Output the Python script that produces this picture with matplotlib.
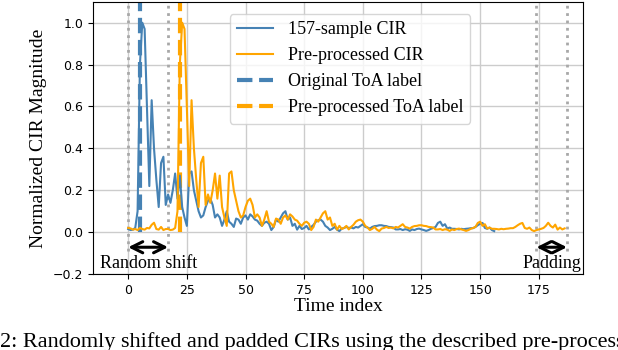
import numpy as np
import matplotlib
matplotlib.use('Agg')
import matplotlib.pyplot as plt

serif = ['Liberation Serif', 'DejaVu Serif']
blue = '#4682b4'
orange = '#ffa500'

# 157-sample CIR
cir_157 = [0.015, 0.01, 0.012, 0.02, 0.1, 0.8, 1.0, 0.97, 0.6, 0.22,
           0.63, 0.4, 0.25, 0.12, 0.33, 0.36, 0.13, 0.18, 0.14, 0.2,
           0.28, 0.16, 0.27, 0.12, 0.07, 0.03, 0.28, 0.29, 0.2, 0.15,
           0.1, 0.07, 0.08, 0.12, 0.15, 0.16, 0.13, 0.07, 0.085, 0.07,
           0.03, 0.06, 0.1, 0.05, 0.04, 0.025, 0.065, 0.06, 0.04, 0.07,
           0.08, 0.06, 0.085, 0.075, 0.06, 0.055, 0.04, 0.03, 0.045, 0.05,
           0.04, 0.01, 0.025, 0.06, 0.05, 0.07, 0.09, 0.1, 0.06, 0.07,
           0.03, 0.04, 0.012, 0.03, 0.015, 0.02, 0.03, 0.013, 0.025, 0.035,
           0.05, 0.057, 0.06, 0.05, 0.03, 0.022, 0.01, 0.016, 0.025, 0.012,
           0.005, 0.017, 0.02, 0.025, 0.02, 0.022, 0.018, 0.025, 0.022, 0.03,
           0.038, 0.025, 0.022, 0.017, 0.025, 0.029, 0.03, 0.033, 0.033, 0.03,
           0.029, 0.025, 0.024, 0.022, 0.013, 0.013, 0.015, 0.01, 0.014, 0.012,
           0.006, 0.013, 0.01, 0.015, 0.017, 0.013, 0.01, 0.006, 0.01, 0.016,
           0.02, 0.025, 0.044, 0.05, 0.03, 0.038, 0.017, 0.022, 0.016, 0.016,
           0.015, 0.013, 0.016, 0.014, 0.016, 0.017, 0.019, 0.019, 0.025, 0.033,
           0.04, 0.044, 0.02, 0.016, 0.022, 0.01, 0.005]
# noise put in front (random shift) and behind (padding)
shift_noise = [0.02, 0.018, 0.012, 0.015, 0.01, 0.02, 0.015, 0.012, 0.02,
               0.018, 0.035, 0.045, 0.015, 0.012, 0.025, 0.01, 0.015]
pad_noise = [0.01, 0.013, 0.016, 0.02, 0.03, 0.045, 0.03, 0.022, 0.036,
             0.012, 0.022, 0.013, 0.018]
toa_orig = 5
shift = len(shift_noise)

pre_cir = shift_noise + cir_157 + pad_noise
toa_pre = toa_orig + shift
bounds = [0, shift, shift + len(cir_157), len(pre_cir)]

fig = plt.figure(figsize=(6.18, 3.5), dpi=100)
ax = fig.add_axes([0.1505, 0.217, 0.7935, 0.778])
ymin, ymax = -0.2, 1.1

ax.grid(color='0.8', linewidth=1.0, zorder=0)
ax.set_axisbelow(True)
ax.vlines(bounds, -0.09, ymax, colors='#a8a8a8', linestyles=':', linewidth=2, zorder=1)

ax.plot(np.arange(len(cir_157)), cir_157, color=blue, lw=1.5, label='157-sample CIR', zorder=3)
ax.plot(np.arange(len(pre_cir)), pre_cir, color=orange, lw=1.5, label='Pre-processed CIR', zorder=3)
ax.vlines(toa_orig, 0, ymax, colors=blue, linestyles='--', lw=3, label='Original ToA label', zorder=2)
ax.vlines(toa_pre, 0, ymax, colors=orange, linestyles='--', lw=3, label='Pre-processed ToA label', zorder=2)

arrow_y = -0.072
for a, b in [(bounds[0], bounds[1]), (bounds[2], bounds[3])]:
    ax.annotate('', xy=(a, arrow_y), xytext=(b, arrow_y),
                arrowprops=dict(arrowstyle='<->', lw=2.2, color='black', mutation_scale=20,
                                shrinkA=0, shrinkB=0))
ax.text(8.5, -0.15, 'Random shift', ha='center', va='center', fontsize=13, family=serif)
ax.text(180.4, -0.15, 'Padding', ha='center', va='center', fontsize=13, family=serif)

ax.set_xlim(-15, 194)
ax.set_ylim(ymin, ymax)
ax.set_xticks([0, 25, 50, 75, 100, 125, 150, 175])
ax.set_yticks([-0.2, 0.0, 0.2, 0.4, 0.6, 0.8, 1.0])
ax.tick_params(labelsize=9)
ax.set_xlabel('Time index', fontsize=14, family=serif, labelpad=1)
ax.set_ylabel('Normalized CIR Magnitude', fontsize=14, family=serif, labelpad=4)

ax.legend(loc='upper left', bbox_to_anchor=(0.279, 0.955), borderaxespad=0,
          prop={'family': serif, 'size': 13})

fig.text(0.0, 0.008, '2: Randomly shifted and padded CIRs using the described pre-processing method.',
         ha='left', va='baseline', fontsize=16, family=serif)

fig.savefig('out.png', dpi=100)
